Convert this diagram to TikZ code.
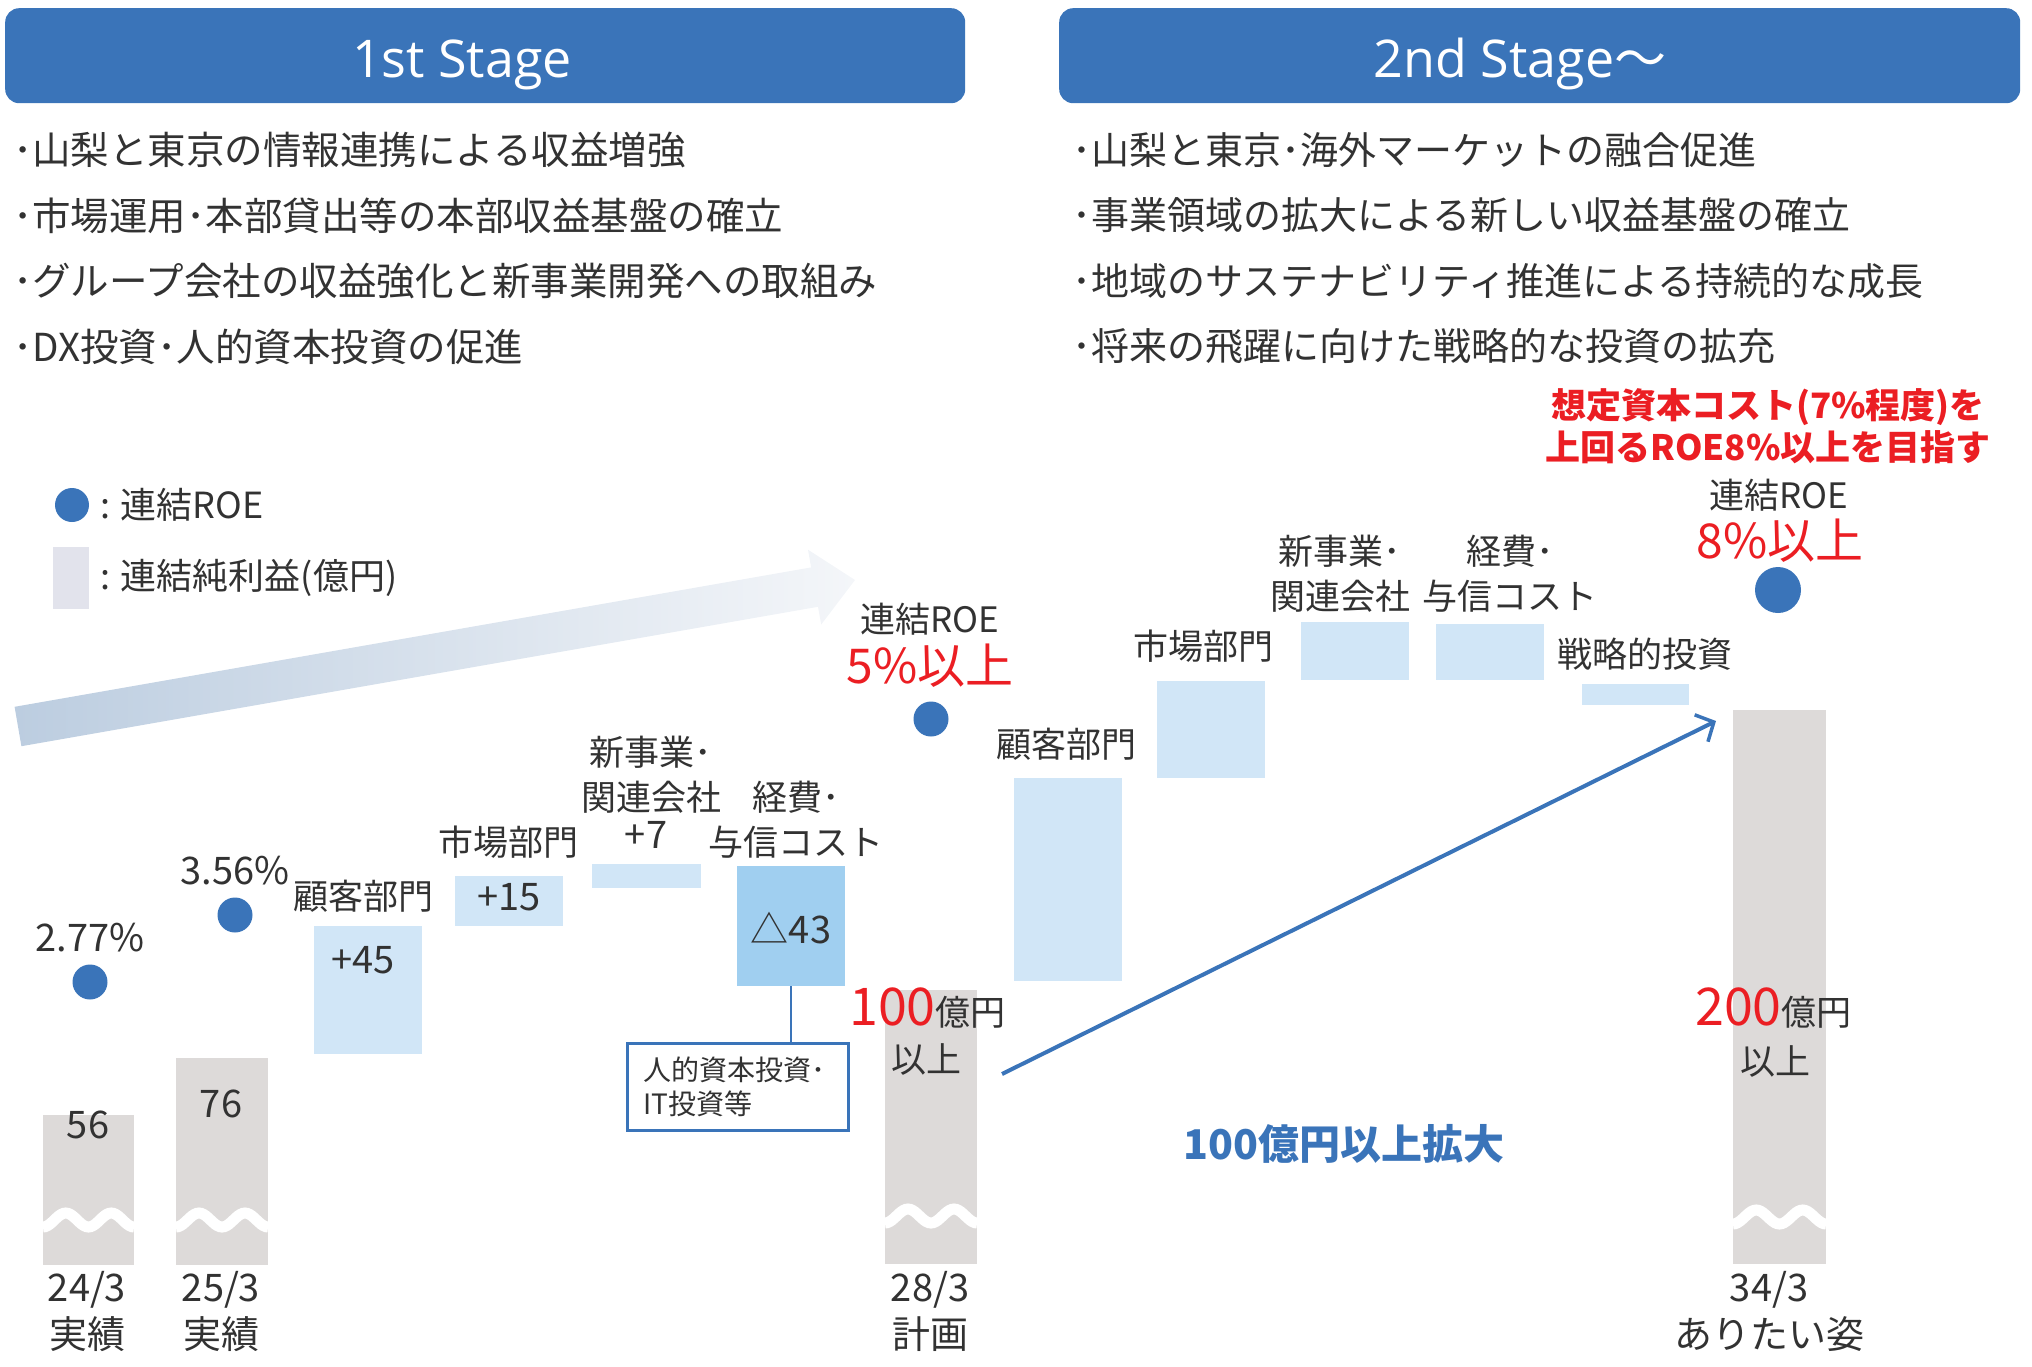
\documentclass[tikz,border=0pt]{standalone}
\usepackage{fontspec}
\setmainfont{Noto Sans CJK JP}
\newfontfamily\headfont{Open Sans}
\usepackage{tikz}
\usetikzlibrary{arrows.meta,positioning}

\definecolor{stageblue}{RGB}{58,116,185}
\definecolor{boxblue}{RGB}{209,230,247}
\definecolor{boxdark}{RGB}{160,207,240}
\definecolor{bargray}{RGB}{221,218,217}
\definecolor{legendgray}{RGB}{226,227,236}
\definecolor{roered}{RGB}{235,30,35}
\definecolor{textgray}{RGB}{50,50,50}
\definecolor{arrowL}{RGB}{188,205,224}
\definecolor{arrowR}{RGB}{244,246,249}

\tikzset{
  basic/.style     = {inner sep=0pt, text=textgray, font=\fontsize{35}{45}\selectfont},
  point/.style     = {basic, anchor=west, font=\fontsize{38.5}{46}\selectfont},
  stage/.style     = {fill=stageblue, rounded corners=14pt, minimum width=960pt,
                      minimum height=95pt, anchor=north west},
  stagetext/.style = {inner sep=0pt, anchor=base, text=white,
                      font=\headfont\fontsize{52}{60}\selectfont},
  netbar/.style    = {fill=bargray, inner sep=0pt, anchor=north west},
  stepbox/.style   = {fill=boxblue, inner sep=0pt, anchor=north west},
  roe/.style       = {circle, fill=stageblue, inner sep=0pt, minimum size=35pt},
  num/.style       = {basic, align=center, font=\fontsize{38}{47}\selectfont},
  target/.style    = {basic, text=roered, font=\fontsize{48}{52}\selectfont}
}

\begin{document}
\begin{tikzpicture}[
  x=1pt, y=-1pt,
  wave/.style={white, line width=11pt},
  growth/.style={stageblue, line width=4pt,
                 -{Straight Barb[length=14pt,width=30pt,line width=3.5pt]}},
  >=latex]
\useasboundingbox (0,0) rectangle (2032,1366);

% stage headers
\node[stage] (s1) at (5,8) {};
\node[stagetext] (s1t) at (462,77) {1st Stage};
\node[stage, minimum width=961pt] (s2) at (1059,8) {};
\node[stagetext] (s2t) at (1520,77) {2nd Stage{\normalfont ～}};

% bullet points of both stages
\foreach \t [count=\i] in {･山梨と東京の情報連携による収益増強,
    ･市場運用･本部貸出等の本部収益基盤の確立,
    ･グループ会社の収益強化と新事業開発への取組み,
    ･DX投資･人的資本投資の促進}
  \node[point] (l\i) at (13,{84.5+65.5*\i}) {\t};
\foreach \t [count=\i] in {･山梨と東京･海外マーケットの融合促進,
    ･事業領域の拡大による新しい収益基盤の確立,
    ･地域のサステナビリティ推進による持続的な成長,
    ･将来の飛躍に向けた戦略的な投資の拡充}
  \node[point, font=\fontsize{38}{46}\selectfont] (r\i) at (1072,{84.5+65.5*\i}) {\t};

% legend
\node[roe, minimum size=34pt] (ldot) at (72,505) {};
\node[basic, anchor=west, font=\fontsize{36}{40}\selectfont] (lroe) at (100,505) {: 連結ROE};
\node[fill=legendgray, inner sep=0pt, anchor=north west,
      minimum width=36pt, minimum height=62pt] (lbar) at (53,547) {};
\node[basic, anchor=west, font=\fontsize{36}{40}\selectfont] (lnet) at (100,578) {: 連結純利益(億円)};

% big fading arrow of the first stage
\shade[left color=arrowL, right color=arrowR]
  (14.6,706.8) -- (811.1,567.4) -- (808,549.7) -- (855,580)
  -- (821.2,624.5) -- (818,606.8) -- (21.4,746.2) -- cycle;

% net income bars
\node[netbar, minimum width=91pt, minimum height=150pt] (b24) at (43,1115) {};
\node[netbar, minimum width=92pt, minimum height=207pt] (b25) at (176,1058) {};
\node[netbar, minimum width=92pt, minimum height=274pt] (b28) at (885,990) {};
\node[netbar, minimum width=93pt, minimum height=554pt] (b34) at (1733,710) {};
\foreach \bx/\bw/\wy in {43/91/1220, 176/92/1220, 885/92/1216, 1733/93/1217}
  \draw[wave] plot[variable=\t, domain=0:\bw, samples=41, smooth]
    ({\bx+\t},{\wy+7*cos(720/\bw*\t)});

% first stage steps
\node[stepbox, minimum width=108pt, minimum height=128pt] (c1) at (314,926) {};
\node[stepbox, minimum width=108pt, minimum height=50pt] (m1) at (455,876) {};
\node[stepbox, minimum width=109pt, minimum height=24pt] (n1) at (592,864) {};
\node[stepbox, fill=boxdark, minimum width=108pt, minimum height=120pt] (k1) at (737,866) {};

% second stage steps
\node[stepbox, minimum width=108pt, minimum height=203pt] (c2) at (1014,778) {};
\node[stepbox, minimum width=108pt, minimum height=97pt] (m2) at (1157,681) {};
\node[stepbox, minimum width=108pt, minimum height=58pt] (n2) at (1301,622) {};
\node[stepbox, minimum width=108pt, minimum height=56pt] (k2) at (1436,624) {};
\node[stepbox, minimum width=107pt, minimum height=21pt] (s2b) at (1582,684) {};

% ROE dots
\node[roe] (d24) at (90,982) {};
\node[roe] (d25) at (235,915) {};
\node[roe] (d28) at (931,719) {};
\node[roe, minimum size=46pt] (d34) at (1778,590) {};

% values and labels, first stage
\node[num] (v24) at (90,938) {2.77\%};
\node[num] (v25) at (235,871) {3.56\%};
\node[num] (n24) at (88,1125) {56};
\node[num] (n25) at (221,1104) {76};
\node[basic] (c1l) at (363,896) {顧客部門};
\node[num] (c1v) at (363,960) {+45};
\node[basic] (m1l) at (508,842) {市場部門};
\node[num] (m1v) at (509,897) {+15};
\node[basic, align=center] (n1l) at (651,775) {新事業･\\関連会社};
\node[num] (n1v) at (646,835) {+7};
\node[basic, align=center] (k1l) at (796,820) {経費･\\与信コスト};
\node[num] (k1v) at (791,928) {△43};
\node[draw=stageblue, line width=2.5pt, fill=white, anchor=north west,
      minimum height=87pt, text width=189pt, inner xsep=16pt, inner ysep=0pt,
      align=left, text=textgray, font=\fontsize{28}{34}\selectfont] (note) at (626,1042)
      {人的資本投資･\\IT投資等};
\draw[stageblue, line width=2.5pt] (k1.south) -- (k1.south |- note.north);

% 28/3 plan
\node[basic] (r28) at (930,619) {連結ROE};
\node[target] (t28) at (930,666) {5\%以上};
\node[basic, anchor=base west] (p28) at (849,1025)
  {{\color{roered}\fontsize{52}{52}\selectfont 100}億円};
\node[basic] (p28b) at (926,1059) {以上};

% second stage labels
\node[basic] (c2l) at (1066,744) {顧客部門};
\node[basic] (m2l) at (1203,646) {市場部門};
\node[basic, align=center] (n2l) at (1340,574) {新事業･\\関連会社};
\node[basic, align=center] (k2l) at (1510,574) {経費･\\与信コスト};
\node[basic] (s2l) at (1645,654) {戦略的投資};

% 34/3 goal
\node[basic, align=center, text=roered, font=\bfseries\fontsize{35}{42}\selectfont] (goal)
  at (1768,426) {想定資本コスト(7\%程度)を\\上回るROE8\%以上を目指す};
\node[basic] (r34) at (1779,495) {連結ROE};
\node[target] (t34) at (1780,541) {8\%以上};
\node[basic, anchor=base west] (p34) at (1695,1025)
  {{\color{roered}\fontsize{52}{52}\selectfont 200}億円};
\node[basic] (p34b) at (1775,1061) {以上};

% growth arrow
\coordinate (gstart) at (1002,1074);
\coordinate (gend) at (1716,721);
\draw[growth] (gstart) -- (gend);
\node[basic, text=stageblue, font=\bfseries\fontsize{41}{45}\selectfont] (gain)
  at (1344,1144) {100億円以上拡大};

% period labels
\node[num] (y24) at (87,1311) {24/3\\実績};
\node[num] (y25) at (221,1311) {25/3\\実績};
\node[num] (y28) at (930,1311) {28/3\\計画};
\node[num] (y34) at (1769,1311) {34/3\\ありたい姿};

\end{tikzpicture}
\end{document}
